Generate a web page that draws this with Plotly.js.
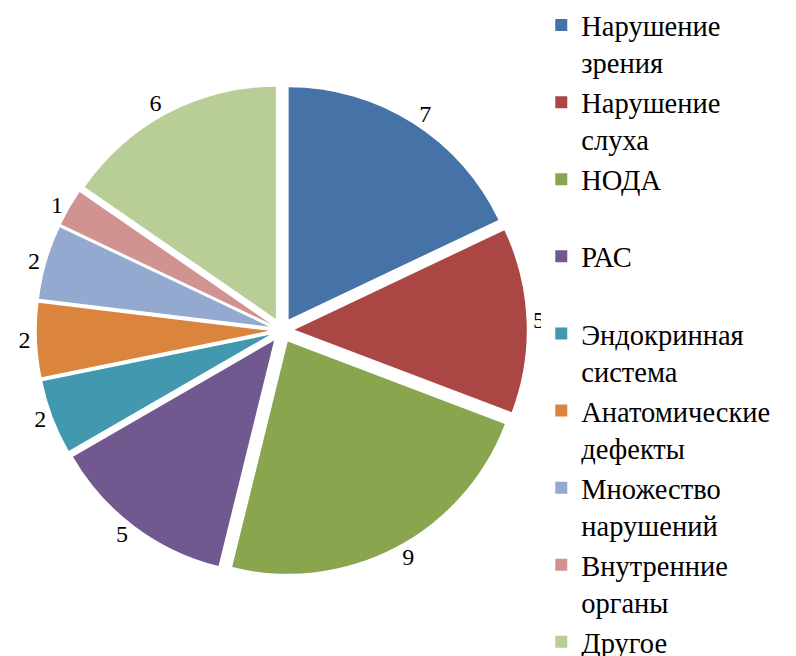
<!DOCTYPE html>
<html>
<head>
<meta charset="utf-8">
<script src="https://cdn.plot.ly/plotly-3.0.1.min.js"></script>
<style>html,body{margin:0;padding:0;background:#fff;}#chart{width:796px;height:656px;}</style>
</head>
<body>
<div id="chart"></div>
<script>
const categories = ["Нарушение<br>зрения", "Нарушение<br>слуха", "НОДА<br>&nbsp;", "РАС<br>&nbsp;", "Эндокринная<br>система", "Анатомические<br>дефекты", "Множество<br>нарушений", "Внутренние<br>органы", "Другое"];
const values = [7, 5, 9, 5, 2, 2, 2, 1, 6];
const colors = ["#4572A7", "#AA4643", "#89A54E", "#71588F", "#4198AF", "#DB843D", "#93A9CF", "#D19392", "#B9CD96"];

const trace = {
  type: "pie",
  labels: categories,
  values: values,
  sort: false,
  direction: "clockwise",
  rotation: 0,
  pull: 0.055,
  marker: {colors: colors, line: {width: 0}},
  textinfo: "value",
  textposition: "outside",
  textfont: {family: "Liberation Serif", size: 24, color: "#000"},
  outsidetextfont: {family: "Liberation Serif", size: 24, color: "#000"},
  domain: {x: [0.046, 0.662], y: [0.123, 0.870]},
  hoverinfo: "none"
};

const layout = {
  width: 796, height: 656,
  margin: {l: 0, r: 0, t: 0, b: 0},
  paper_bgcolor: "#fff",
  font: {family: "Liberation Serif", size: 24, color: "#000"},
  showlegend: true,
  legend: {
    x: 0.68, y: 1.0, xanchor: "left", yanchor: "top",
    font: {family: "Liberation Serif", size: 28.5, color: "#000"},
    valign: "top",
    itemwidth: 30,
    traceorder: "normal"
  }
};

Plotly.newPlot("chart", [trace], layout, {displayModeBar: false, staticPlot: true});
</script>
</body>
</html>
